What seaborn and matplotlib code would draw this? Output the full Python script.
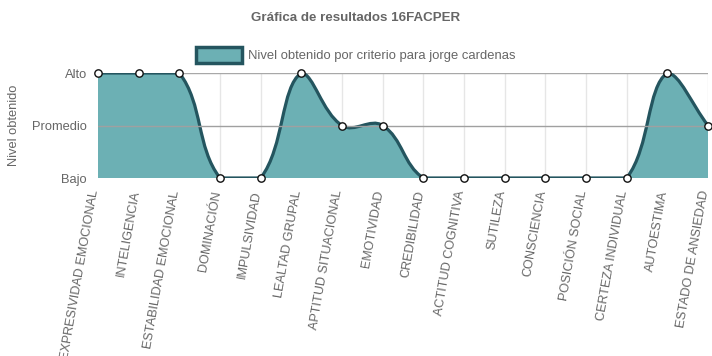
import numpy as np
import matplotlib
matplotlib.use("Agg")
import matplotlib.pyplot as plt
from matplotlib.path import Path
from matplotlib.patches import PathPatch, Patch
from matplotlib.transforms import ScaledTranslation
import seaborn as sns
import pandas as pd

categories = ["EXPRESIVIDAD EMOCIONAL", "INTELIGENCIA", "ESTABILIDAD EMOCIONAL",
              "DOMINACIÓN", "IMPULSIVIDAD", "LEALTAD GRUPAL", "APTITUD SITUACIONAL",
              "EMOTIVIDAD", "CREDIBILIDAD", "ACTITUD COGNITIVA", "SUTILEZA",
              "CONSCIENCIA", "POSICIÓN SOCIAL", "CERTEZA INDIVIDUAL", "AUTOESTIMA",
              "ESTADO DE ANSIEDAD"]
values = [2, 2, 2, 0, 0, 2, 1, 1, 0, 0, 0, 0, 0, 0, 2, 1]
level_labels = ["Bajo", "Promedio", "Alto"]
title = "Gráfica de resultados 16FACPER"
series_name = "Nivel obtenido por criterio para jorge cardenas"
y_title = "Nivel obtenido"

FILL = "#6cb0b4"
LINE = "#24555f"
TXT = "#666666"

sns.set_style("white")
plt.rcParams['font.family'] = ['Liberation Sans', 'DejaVu Sans']

W, H = 712, 356
fig = plt.figure(figsize=(W / 100, H / 100), dpi=100)
L, R, T, B = 98, 708, 73, 178
ax = fig.add_axes([L / W, 1 - B / H, (R - L) / W, (B - T) / H])

n = len(values)
xs = np.arange(n, dtype=float)
ys = np.array(values, dtype=float)

# Chart.js-like spline (tension 0.4) computed in pixel space
sx = (R - L) / (n - 1)
sy = (B - T) / 2.0
px = xs * sx
py = ys * sy
t = 0.4
cprev = np.zeros((n, 2))
cnext = np.zeros((n, 2))
for i in range(n):
    p0 = (px[max(i - 1, 0)], py[max(i - 1, 0)])
    p1 = (px[i], py[i])
    p2 = (px[min(i + 1, n - 1)], py[min(i + 1, n - 1)])
    d01 = np.hypot(p1[0] - p0[0], p1[1] - p0[1])
    d12 = np.hypot(p2[0] - p1[0], p2[1] - p1[1])
    tot = d01 + d12
    s01 = d01 / tot if tot else 0
    s12 = d12 / tot if tot else 0
    fa, fb = t * s01, t * s12
    cprev[i] = (p1[0] - fa * (p2[0] - p0[0]), p1[1] - fa * (p2[1] - p0[1]))
    cnext[i] = (p1[0] + fb * (p2[0] - p0[0]), p1[1] + fb * (p2[1] - p0[1]))
cprev[:, 1] = np.clip(cprev[:, 1], 0, 2 * sy)
cnext[:, 1] = np.clip(cnext[:, 1], 0, 2 * sy)
cprev[:, 0] = np.clip(cprev[:, 0], 0, px[-1])
cnext[:, 0] = np.clip(cnext[:, 0], 0, px[-1])

verts = [(px[0] / sx, py[0] / sy)]
codes = [Path.MOVETO]
for i in range(n - 1):
    verts += [(cnext[i][0] / sx, cnext[i][1] / sy),
              (cprev[i + 1][0] / sx, cprev[i + 1][1] / sy),
              (px[i + 1] / sx, py[i + 1] / sy)]
    codes += [Path.CURVE4] * 3
line_path = Path(verts, codes)
fill_verts = verts + [(xs[-1], 0), (xs[0], 0), verts[0]]
fill_codes = codes + [Path.LINETO, Path.LINETO, Path.CLOSEPOLY]
ax.add_patch(PathPatch(Path(fill_verts, fill_codes), facecolor=FILL, edgecolor="none", zorder=2))
ax.add_patch(PathPatch(line_path, facecolor="none", edgecolor=LINE, lw=2.3, zorder=3))

df = pd.DataFrame({"x": xs, "y": ys})
sns.scatterplot(data=df, x="x", y="y", ax=ax, s=28, color="white",
                edgecolor="#111111", linewidth=1.0, zorder=5, clip_on=False, legend=False)

ax.set_xlim(0, n - 1)
ax.set_ylim(0, 2)
for s in ax.spines.values():
    s.set_visible(False)
for i in range(n):
    ax.axvline(i, color="#e6e6e6", lw=1, zorder=1)
ax.axhline(2, color="#a8a8a8", lw=1, zorder=1)
ax.axhline(1, color="#a0a0a0", lw=1, zorder=4)
ax.axhline(0, color="#cccccc", lw=1.5, zorder=1)

ax.tick_params(axis="y", length=7, color="#aaaaaa", pad=1)
ax.tick_params(axis="x", length=6, color="#e0e0e0", pad=3)
ax.set_yticks([0, 1, 2])
ax.set_yticklabels(level_labels, fontsize=9.3, color=TXT)
ax.set_xticks(xs)
ax.set_xticklabels(categories, fontsize=9.1, color=TXT, rotation=80,
                   ha="right", va="center", rotation_mode="anchor")
shift = ScaledTranslation(-3 / 100, 0, fig.dpi_scale_trans)
for lab in ax.get_xticklabels():
    lab.set_transform(lab.get_transform() + shift)
ax.set_xlabel("")
ax.set_ylabel(y_title, fontsize=9.3, color=TXT)
ax.yaxis.set_label_coords((20 - L) / (R - L), 0.5)

fig.text(0.5, 1 - 18 / H, title, ha="center", va="center", fontsize=9.6,
         fontweight="bold", color=TXT)
handle = Patch(facecolor=FILL, edgecolor=LINE, linewidth=2.5)
fig.legend([handle], [series_name], loc="center", bbox_to_anchor=(0.5, 1 - 55 / H),
           frameon=False, fontsize=9.4, labelcolor=TXT, handlelength=3.5,
           handleheight=1.6, handletextpad=0.5)

fig.savefig("out.png", dpi=100)
